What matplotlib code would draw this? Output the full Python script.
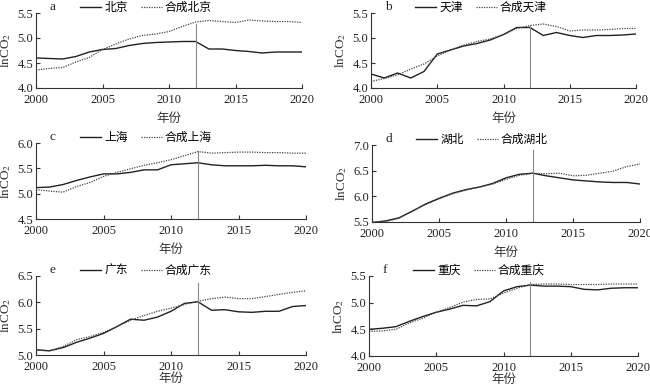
import matplotlib
matplotlib.use("Agg")
import matplotlib.pyplot as plt
import numpy as np

plt.rcParams['font.family'] = ['Liberation Serif', 'Noto Sans CJK SC']
plt.rcParams['mathtext.fontset'] = 'stix'

years = list(range(2000, 2021))

bj = [4.60, 4.59, 4.58, 4.63, 4.72, 4.77, 4.79, 4.85, 4.89, 4.91, 4.92, 4.93, 4.93,
      4.78, 4.78, 4.75, 4.73, 4.70, 4.72, 4.72, 4.72]
bj_syn = [4.36, 4.39, 4.41, 4.52, 4.61, 4.77, 4.88, 4.98, 5.05, 5.08, 5.13, 5.23, 5.32,
          5.35, 5.33, 5.31, 5.36, 5.34, 5.33, 5.33, 5.31]
tj = [4.28, 4.20, 4.30, 4.20, 4.33, 4.68, 4.76, 4.84, 4.89, 4.96, 5.07, 5.21, 5.21,
      5.05, 5.11, 5.05, 5.01, 5.05, 5.05, 5.06, 5.08]
tj_syn = [4.13, 4.19, 4.26, 4.38, 4.48, 4.64, 4.76, 4.86, 4.93, 4.98, 5.07, 5.19, 5.25,
          5.28, 5.23, 5.14, 5.16, 5.16, 5.17, 5.19, 5.19]
sh = [5.12, 5.13, 5.18, 5.26, 5.33, 5.39, 5.39, 5.42, 5.47, 5.47, 5.57, 5.59, 5.61,
      5.57, 5.55, 5.55, 5.55, 5.56, 5.55, 5.55, 5.53]
sh_syn = [5.08, 5.05, 5.03, 5.14, 5.22, 5.34, 5.42, 5.49, 5.56, 5.61, 5.67, 5.75, 5.83,
          5.80, 5.81, 5.82, 5.82, 5.81, 5.81, 5.80, 5.80]
hb = [5.49, 5.52, 5.58, 5.71, 5.85, 5.96, 6.06, 6.13, 6.18, 6.25, 6.36, 6.43, 6.45,
      6.40, 6.36, 6.32, 6.30, 6.28, 6.27, 6.27, 6.24]
hb_syn = [5.49, 5.51, 5.57, 5.71, 5.84, 5.95, 6.05, 6.12, 6.18, 6.24, 6.33, 6.41, 6.45,
          6.44, 6.45, 6.40, 6.41, 6.45, 6.49, 6.58, 6.63]
gd = [5.10, 5.08, 5.14, 5.24, 5.32, 5.41, 5.54, 5.68, 5.66, 5.72, 5.83, 5.98, 6.01,
      5.85, 5.86, 5.82, 5.81, 5.83, 5.83, 5.92, 5.94]
gd_syn = [5.09, 5.08, 5.16, 5.29, 5.35, 5.43, 5.54, 5.66, 5.75, 5.83, 5.89, 5.96, 6.02,
          6.07, 6.10, 6.07, 6.07, 6.11, 6.15, 6.19, 6.22]
cq = [4.50, 4.52, 4.55, 4.65, 4.74, 4.82, 4.88, 4.95, 4.94, 5.02, 5.22, 5.30, 5.33,
      5.31, 5.31, 5.30, 5.25, 5.24, 5.27, 5.28, 5.28]
cq_syn = [4.46, 4.47, 4.50, 4.62, 4.71, 4.82, 4.91, 5.01, 5.06, 5.07, 5.18, 5.27, 5.34,
          5.35, 5.35, 5.34, 5.34, 5.34, 5.35, 5.35, 5.35]

letters = ['a', 'b', 'c', 'd', 'e', 'f']
names = ['北京', '天津', '上海', '湖北', '广东', '重庆']
actual = [bj, tj, sh, hb, gd, cq]
synthetic = [bj_syn, tj_syn, sh_syn, hb_syn, gd_syn, cq_syn]
ylims = [(4.0, 5.5), (4.0, 5.5), (4.5, 6.0), (5.5, 7.0), (5.0, 6.5), (4.0, 5.5)]
treat_year = 2012

# pixel boxes: left, right, top, bottom
boxes = [(36, 302, 13, 88), (371, 636, 13, 88),
         (36, 306, 143, 219), (372, 640, 145, 222),
         (36, 306, 276, 355), (369, 638, 276, 356)]
vmax = [0.86, 0.84, 0.90, 0.93, 0.91, 0.92]
xlpad = [5, 5, 5, 5, 0.5, 0.5]

W, H = 650, 388
fig = plt.figure(figsize=(W / 100, H / 100), dpi=100)

for i in range(6):
    l, r, t, b = boxes[i]
    ax = fig.add_axes([l / W, 1 - b / H, (r - l) / W, (b - t) / H])
    ax.plot(years, actual[i], color='#222222', lw=1.0, label=names[i])
    ax.plot(years, synthetic[i], color='#444444', lw=0.9, linestyle=(0, (1, 1)),
            label='合成' + names[i])
    ax.axvline(treat_year, ymin=0, ymax=vmax[i], color='#888888', lw=0.8)
    ax.set_xlim(2000, 2020)
    lo, hi = ylims[i]
    ax.set_ylim(lo, hi)
    ax.set_yticks(np.arange(lo, hi + 0.01, 0.5))
    ax.set_yticklabels([f'{v:.1f}' for v in np.arange(lo, hi + 0.01, 0.5)])
    ax.set_xticks([2000, 2005, 2010, 2015, 2020])
    for s in ['top', 'right']:
        ax.spines[s].set_visible(False)
    for s in ['left', 'bottom']:
        ax.spines[s].set_linewidth(0.8)
        ax.spines[s].set_color('#333333')
    ax.tick_params(direction='in', length=3, width=0.8, labelsize=9, pad=2,
                   colors='#333333', labelcolor='#222222')
    ax.tick_params(axis='x', pad=4)
    ax.set_xlabel('年份', fontsize=9, labelpad=xlpad[i], color='#333333')
    ax.set_ylabel('lnCO$_2$', fontsize=9.5, labelpad=3, color='#333333')
    h_ax = (b - t)
    ax.text(14 / (r - l), 1 + 6 / h_ax, letters[i], transform=ax.transAxes,
            fontsize=9.5, ha='left', va='center', color='#222222')
    ax.legend(loc='center left', bbox_to_anchor=(44 / (r - l), 1 + 5 / h_ax),
              ncol=2, frameon=False, fontsize=8.5, handlelength=1.8,
              handletextpad=0.25, columnspacing=1.1, borderpad=0, borderaxespad=0)

fig.savefig('out.png', dpi=100)
